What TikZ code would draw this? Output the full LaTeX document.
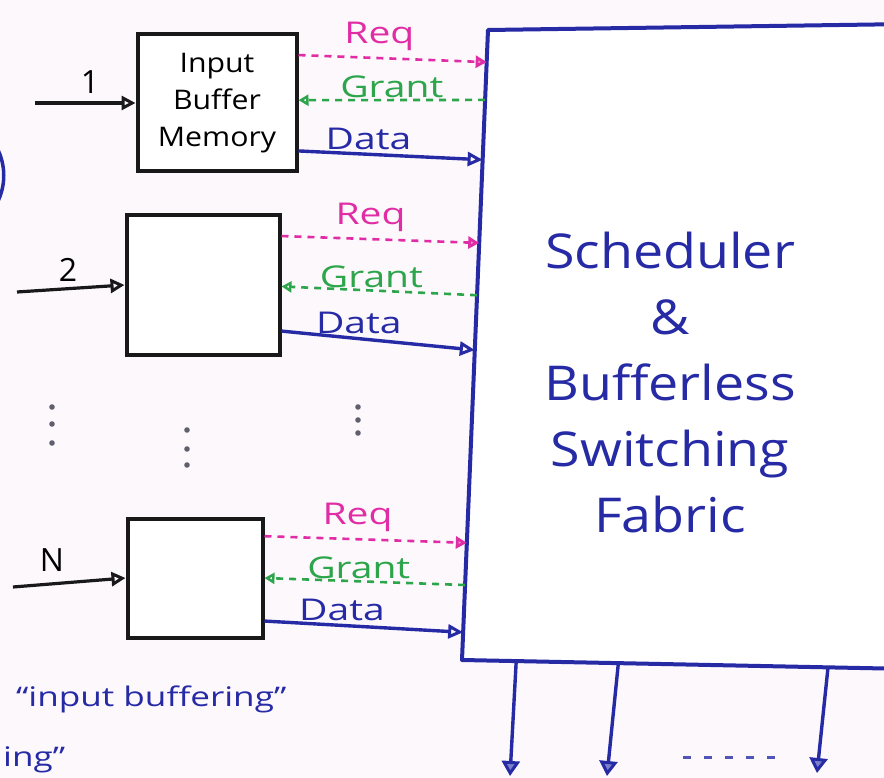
\documentclass[tikz,border=0pt]{standalone}
\usepackage{fontspec}
\setmainfont{Open Sans}
\newfontfamily\handfont[FakeStretch=1.3]{Open Sans}
\newfontfamily\widefont[FakeStretch=1.12]{Open Sans}
\usetikzlibrary{arrows.meta,calc}
\definecolor{reqc}{RGB}{225,45,165}
\definecolor{grc}{RGB}{45,165,75}
\definecolor{datc}{RGB}{38,42,165}
\definecolor{bgc}{RGB}{252,248,252}
\definecolor{dotc}{RGB}{95,95,110}
\begin{document}
\begin{tikzpicture}[x=1pt,y=-1pt,
  membox/.style={draw=black!90, line width=4pt, inner sep=0pt, fill=white},
  inarr/.style={draw=black!90, line width=3.2pt, -{Triangle[open,length=14pt,width=14pt,line width=3pt]}},
  reqline/.style={draw=reqc, line width=2.6pt, dash pattern=on 7pt off 6pt, -{Triangle[open,length=11pt,width=12pt,line width=3pt,fill=reqc!50]}},
  grantline/.style={draw=grc, line width=2.6pt, dash pattern=on 7pt off 6pt, -{Triangle[open,length=10pt,width=11pt,line width=2.8pt]}},
  dataline/.style={draw=datc, line width=3.4pt, -{Triangle[open,length=15pt,width=14pt,line width=3pt]}},
  outline/.style={draw=datc, line width=3.4pt, -{Triangle[open,length=15pt,width=18pt,line width=3pt,fill=datc!60]}},
  reqlab/.style={text=reqc, font=\handfont\fontsize{30}{34}\selectfont, inner sep=1pt},
  grlab/.style={text=grc, font=\handfont\fontsize{30}{34}\selectfont, inner sep=1pt},
  datlab/.style={text=datc, font=\handfont\fontsize{30}{34}\selectfont, inner sep=1pt},
  inlab/.style={text=black, font=\fontsize{32}{36}\selectfont, inner sep=0pt},
  note/.style={text=datc, font=\handfont\fontsize{27}{32}\selectfont, inner sep=0pt}
]
\useasboundingbox (0,0) rectangle (884,778);
\clip (0,0) rectangle (884,778);
\fill[bgc] (0,0) rectangle (884,778);

% fabric outline
\coordinate (fTL) at (488,30);
\coordinate (fTR) at (910,24);
\coordinate (fBL) at (462,660);
\coordinate (fBR) at (910,669);
\fill[white] (fTL) -- (fTR) -- (fBR) -- (fBL) -- cycle;
\draw[datc, line width=4pt, line join=round] (fTR) -- (fTL) -- (fBL) -- (fBR);
\node[text=datc, align=center, font=\widefont\fontsize{48}{66}\selectfont] (fabric) at (670,382)
  {Scheduler\\\&\\Bufferless\\Switching\\Fabric};

% input buffer memories
\node[membox, minimum width=159pt, minimum height=137pt, align=center,
      font=\widefont\fontsize{27}{37}\selectfont] (b1) at (217,103) {Input\\Buffer\\Memory};
\node[membox, minimum width=153pt, minimum height=140pt] (b2) at (203,285) {};
\node[membox, minimum width=135pt, minimum height=119pt] (bN) at (195,578) {};

% inputs
\coordinate (i1) at (35,103);
\coordinate (i2) at (17,292);
\coordinate (iN) at (13,587);
\draw[inarr] (i1) -- (b1.west);
\draw[inarr] (i2) -- (b2.west);
\draw[inarr] (iN) -- (bN.west);
\node[inlab] (l1) at (90,82) {1};
\node[inlab] (l2) at (68,270) {2};
\node[inlab] (lN) at (52,560) {N};

% channel 1
\draw[reqline] ($(b1.north east)!0.16!(b1.south east)$) -- ($(fTL)!0.051!(fBL)$)
  node[reqlab, pos=0.43, above=5pt] (rq1) {Req};
\draw[grantline] ($(fTL)!0.111!(fBL)$) -- ($(b1.north east)!0.48!(b1.south east)$)
  node[grlab, pos=0.5, above=0pt] (gr1) {Grant};
\draw[dataline] ($(b1.north east)!0.84!(b1.south east)$) -- ($(fTL)!0.206!(fBL)$)
  node[datlab, pos=0.38, above=2pt] (dt1) {Data};

% channel 2
\draw[reqline] ($(b2.north east)!0.16!(b2.south east)$) -- ($(fTL)!0.338!(fBL)$)
  node[reqlab, pos=0.45, above=5pt] (rq2) {Req};
\draw[grantline] ($(fTL)!0.421!(fBL)$) -- ($(b2.north east)!0.51!(b2.south east)$)
  node[grlab, pos=0.54, above=0pt] (gr2) {Grant};
\draw[dataline] ($(b2.north east)!0.82!(b2.south east)$) -- ($(fTL)!0.508!(fBL)$)
  node[datlab, pos=0.4, above=2pt] (dt2) {Data};

% channel N
\draw[reqline] ($(bN.north east)!0.16!(bN.south east)$) -- ($(fTL)!0.814!(fBL)$)
  node[reqlab, pos=0.46, above=5pt] (rqN) {Req};
\draw[grantline] ($(fTL)!0.881!(fBL)$) -- ($(bN.north east)!0.5!(bN.south east)$)
  node[grlab, pos=0.53, above=0pt] (grN) {Grant};
\draw[dataline] ($(bN.north east)!0.85!(bN.south east)$) -- ($(fTL)!0.956!(fBL)$)
  node[datlab, pos=0.39, above=2pt] (dtN) {Data};

% vertical ellipsis dots
\foreach \x/\a/\b/\c in {52/407/424/443, 187/430/449/465, 358/407/420/433}{
  \fill[dotc] (\x,\a) circle (2.8pt);
  \fill[dotc] (\x,\b) circle (2.8pt);
  \fill[dotc] (\x,\c) circle (2.8pt);
}

% outputs
\coordinate (o1) at (510,776);
\coordinate (o2) at (607,776);
\coordinate (o3) at (817,773);
\draw[outline] ($(fBL)!0.121!(fBR)$) -- (o1);
\draw[outline] ($(fBL)!0.349!(fBR)$) -- (o2);
\draw[outline] ($(fBL)!0.817!(fBR)$) -- (o3);
\draw[datc!80, line width=3pt, dash pattern=on 8pt off 13pt] (683,757) -- (775,757);

% notes
\node[note, anchor=base west] (n1) at (16,706) {“input buffering”};
\node[note, anchor=base west] (n2) at (3,766) {ing”};
\draw[datc, line width=3.5pt] (-3,148) .. controls (6,165) and (6,186) .. (-3,203);
\end{tikzpicture}
\end{document}
